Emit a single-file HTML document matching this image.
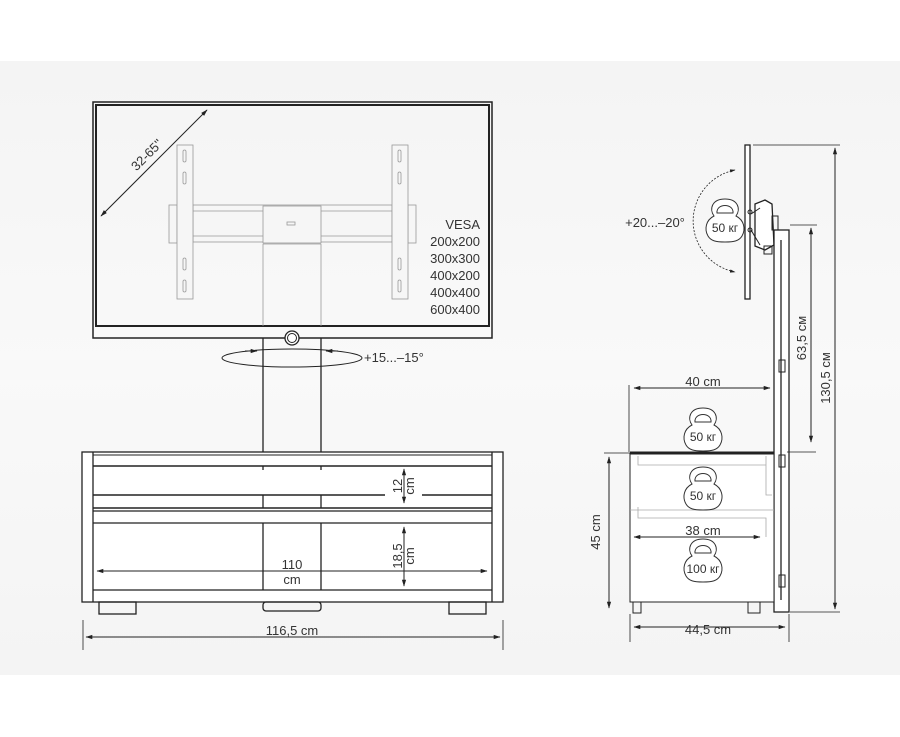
<!DOCTYPE html>
<html><head><meta charset="utf-8"><style>
html,body{margin:0;padding:0;background:#fff;}
svg{display:block;}
text{font-family:"Liberation Sans",sans-serif;fill:#333;}
</style></head><body>
<svg width="900" height="737" viewBox="0 0 900 737" xmlns="http://www.w3.org/2000/svg">
<defs>
<marker id="a" viewBox="0 0 10 10" refX="9" refY="5" markerWidth="7" markerHeight="7" orient="auto-start-reverse"><path d="M0,2 L10,5 L0,8 Z" fill="#222"/></marker>
<linearGradient id="bg" x1="0" y1="0" x2="0" y2="1"><stop offset="0" stop-color="#f4f4f4"/><stop offset="0.5" stop-color="#f9f9f9"/><stop offset="1" stop-color="#f4f4f4"/></linearGradient>
<g id="kb"><path d="M-11,-5 C-16,-12 -13,-22 0,-22 C13,-22 16,-12 11,-5 C19,-1 21,8 17,15 C14,20 9,21 0,21 C-9,21 -14,20 -17,15 C-21,8 -19,-1 -11,-5 Z" fill="#fff" stroke="#333" stroke-width="1"/><path d="M-8,-8 C-9,-18 9,-18 8,-8 Z" fill="#fff" stroke="#333" stroke-width="1"/></g>
</defs>
<rect x="0" y="61" width="900" height="614" fill="url(#bg)"/>
<g fill="none" stroke="#222">
<rect x="93" y="102" width="399" height="236" stroke-width="1.5"/>
<rect x="96" y="105" width="393" height="221" stroke-width="2"/>
<line x1="101" y1="216" x2="207" y2="110" stroke-width="1" marker-start="url(#a)" marker-end="url(#a)"/>
<g stroke="#999" stroke-width="0.8" fill="#f6f6f6">
<rect x="169" y="205" width="8" height="38"/><rect x="408" y="205" width="8" height="38"/>
<rect x="193" y="205" width="199" height="37"/>
<line x1="193" y1="211" x2="392" y2="211"/><line x1="193" y1="236" x2="392" y2="236"/>
<rect x="177" y="145" width="16" height="154"/><rect x="392" y="145" width="16" height="154"/>
<rect x="263" y="206" width="58" height="37"/>
<rect x="287" y="222" width="8" height="3"/>
<rect x="183" y="150" width="3" height="12" rx="1.5"/><rect x="183" y="172" width="3" height="12" rx="1.5"/><rect x="183" y="258" width="3" height="12" rx="1.5"/><rect x="183" y="280" width="3" height="12" rx="1.5"/>
<rect x="398" y="150" width="3" height="12" rx="1.5"/><rect x="398" y="172" width="3" height="12" rx="1.5"/><rect x="398" y="258" width="3" height="12" rx="1.5"/><rect x="398" y="280" width="3" height="12" rx="1.5"/>
<line x1="263" y1="244" x2="263" y2="326"/><line x1="321" y1="244" x2="321" y2="326"/>
<line x1="263" y1="244" x2="321" y2="244"/>
</g>
<line x1="263" y1="338" x2="263" y2="453" stroke-width="1.3"/><line x1="321" y1="338" x2="321" y2="453" stroke-width="1.3"/>
<circle cx="292" cy="338" r="7" fill="#fff" stroke-width="1.3"/><circle cx="292" cy="338" r="4.5" stroke-width="1"/>
<ellipse cx="292" cy="358" rx="70" ry="9" stroke-width="1"/>
<line x1="245" y1="351" x2="257" y2="351" stroke-width="1" marker-end="url(#a)"/>
<line x1="338" y1="351" x2="326" y2="351" stroke-width="1" marker-end="url(#a)"/>
<rect x="82" y="452" width="421" height="150" stroke-width="1.3" fill="#fff"/>
<line x1="93" y1="452" x2="93" y2="602" stroke-width="1.3"/><line x1="492" y1="452" x2="492" y2="602" stroke-width="1.3"/>
<line x1="93" y1="455" x2="492" y2="455" stroke-width="1"/>
<line x1="93" y1="466" x2="492" y2="466" stroke-width="1.5"/>
<line x1="93" y1="495" x2="385" y2="495" stroke-width="1.5"/><line x1="422" y1="495" x2="492" y2="495" stroke-width="1.5"/>
<line x1="93" y1="508" x2="492" y2="508" stroke-width="1.5"/><line x1="93" y1="511" x2="492" y2="511" stroke-width="1.3"/>
<line x1="93" y1="523" x2="492" y2="523" stroke-width="1.3"/>
<line x1="93" y1="590" x2="492" y2="590" stroke-width="1.3"/>
<line x1="263" y1="495" x2="263" y2="508" stroke-width="1.3"/><line x1="321" y1="495" x2="321" y2="508" stroke-width="1.3"/>
<line x1="263" y1="466" x2="263" y2="470" stroke-width="1.3"/><line x1="321" y1="466" x2="321" y2="470" stroke-width="1.3"/>
<line x1="263" y1="523" x2="263" y2="590" stroke-width="1.3"/><line x1="321" y1="523" x2="321" y2="590" stroke-width="1.3"/>
<rect x="99" y="602" width="37" height="12" stroke-width="1.3"/><rect x="449" y="602" width="37" height="12" stroke-width="1.3"/>
<rect x="263" y="602" width="58" height="9" rx="3" stroke-width="1.3"/>
<line x1="404" y1="469" x2="404" y2="503" stroke-width="1" marker-start="url(#a)" marker-end="url(#a)"/>
<line x1="404" y1="527" x2="404" y2="586" stroke-width="1" marker-start="url(#a)" marker-end="url(#a)"/>
<line x1="97" y1="571" x2="487" y2="571" stroke-width="1" marker-start="url(#a)" marker-end="url(#a)"/>
<line x1="83" y1="620" x2="83" y2="650" stroke-width="0.8"/><line x1="503" y1="620" x2="503" y2="650" stroke-width="0.8"/>
<line x1="86" y1="637" x2="500" y2="637" stroke-width="1" marker-start="url(#a)" marker-end="url(#a)"/>
<rect x="745" y="145" width="5" height="154" stroke-width="1.3" fill="#fff"/>
<path d="M755,204 L765,200 L772,204 L774,245 L765,250 L755,246 Z" stroke-width="1.3" fill="#fff"/>
<line x1="751" y1="214" x2="760" y2="208" stroke-width="1"/><line x1="751" y1="230" x2="760" y2="245" stroke-width="1"/>
<circle cx="750" cy="212" r="2" stroke-width="1"/><circle cx="750" cy="230" r="2" stroke-width="1"/>
<rect x="764" y="246" width="8" height="8" stroke-width="1"/>
<rect x="772" y="216" width="6" height="14" stroke-width="1"/>
<rect x="774" y="230" width="15" height="382" stroke-width="1.3" fill="#fff"/>
<line x1="781" y1="240" x2="781" y2="600" stroke-width="1.3"/>
<rect x="779" y="360" width="6" height="12" stroke-width="1"/><rect x="779" y="455" width="6" height="12" stroke-width="1"/><rect x="779" y="575" width="6" height="12" stroke-width="1"/>
<path d="M735,170 A52,52 0 0 0 735,272" stroke-width="0.8" stroke-dasharray="2,1.5" marker-start="url(#a)" marker-end="url(#a)"/>
<line x1="753" y1="145" x2="840" y2="145" stroke-width="0.8"/>
<line x1="790" y1="612" x2="840" y2="612" stroke-width="0.8"/>
<line x1="835" y1="148" x2="835" y2="609" stroke-width="1" marker-start="url(#a)" marker-end="url(#a)"/>
<line x1="790" y1="225" x2="817" y2="225" stroke-width="0.8"/>
<line x1="811" y1="228" x2="811" y2="442" stroke-width="1" marker-start="url(#a)" marker-end="url(#a)"/>
<line x1="787" y1="452" x2="816" y2="452" stroke-width="0.8"/>
<rect x="630" y="453" width="144" height="149" stroke-width="1" fill="#fff"/>
<line x1="630" y1="453" x2="774" y2="453" stroke-width="3"/>
<g stroke="#aaa" stroke-width="0.8"><path d="M638,456 V465 H766 M766,456 V495 H772 M638,507 V518 H766 V537 M630,510 H774"/></g>
<line x1="630" y1="602" x2="774" y2="602" stroke-width="1"/>
<rect x="633" y="602" width="8" height="11" stroke-width="1"/><rect x="748" y="602" width="12" height="11" stroke-width="1"/>
<line x1="629" y1="385" x2="629" y2="452" stroke-width="0.8"/>
<line x1="634" y1="388" x2="770" y2="388" stroke-width="1" marker-start="url(#a)" marker-end="url(#a)"/>
<line x1="604" y1="453" x2="630" y2="453" stroke-width="0.8"/>
<line x1="609" y1="457" x2="609" y2="608" stroke-width="1" marker-start="url(#a)" marker-end="url(#a)"/>
<line x1="634" y1="537" x2="760" y2="537" stroke-width="1" marker-start="url(#a)" marker-end="url(#a)"/>
<line x1="630" y1="614" x2="630" y2="642" stroke-width="0.8"/><line x1="789" y1="614" x2="789" y2="642" stroke-width="0.8"/>
<line x1="634" y1="627" x2="785" y2="627" stroke-width="1" marker-start="url(#a)" marker-end="url(#a)"/>
</g>
<use href="#kb" x="725" y="221"/>
<use href="#kb" x="703" y="430"/>
<use href="#kb" x="703" y="489"/>
<use href="#kb" x="703" y="561"/>
<g font-size="13">
<text x="150" y="158" transform="rotate(-45 150 158)" text-anchor="middle">32-65''</text>
<g text-anchor="end"><text x="480" y="229">VESA</text><text x="480" y="246">200x200</text><text x="480" y="263">300x300</text><text x="480" y="280">400x200</text><text x="480" y="297">400x400</text><text x="480" y="314">600x400</text></g>
<text x="364" y="362">+15...–15°</text>
<text x="404" y="486" transform="rotate(-90 404 486)" text-anchor="middle"><tspan x="404" dy="-2">12</tspan><tspan x="404" dy="12">cm</tspan></text>
<text x="404" y="556" transform="rotate(-90 404 556)" text-anchor="middle"><tspan x="404" dy="-2">18,5</tspan><tspan x="404" dy="12">cm</tspan></text>
<text x="292" y="569" text-anchor="middle">110</text><text x="292" y="584" text-anchor="middle">cm</text>
<text x="292" y="635" text-anchor="middle">116,5 cm</text>
<text x="655" y="227" text-anchor="middle">+20...–20°</text>
<text x="725" y="232" text-anchor="middle" font-size="12">50 кг</text>
<text x="703" y="441" text-anchor="middle" font-size="12">50 кг</text>
<text x="703" y="500" text-anchor="middle" font-size="12">50 кг</text>
<text x="703" y="573" text-anchor="middle" font-size="12">100 кг</text>
<text x="703" y="386" text-anchor="middle">40 cm</text>
<text x="703" y="535" text-anchor="middle">38 cm</text>
<text x="708" y="634" text-anchor="middle">44,5 cm</text>
<text x="600" y="532" transform="rotate(-90 600 532)" text-anchor="middle">45 cm</text>
<text x="806" y="338" transform="rotate(-90 806 338)" text-anchor="middle">63,5 см</text>
<text x="830" y="378" transform="rotate(-90 830 378)" text-anchor="middle">130,5 см</text>
</g>
</svg>
</body></html>
